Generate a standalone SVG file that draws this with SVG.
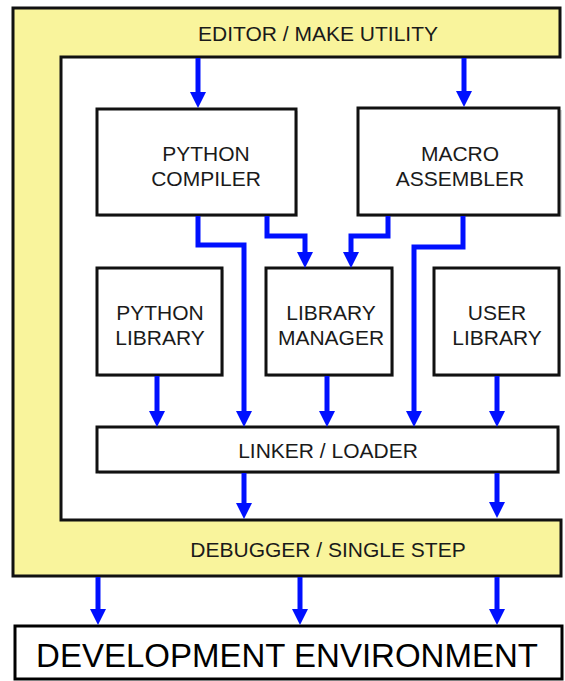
<svg xmlns="http://www.w3.org/2000/svg" width="565" height="681" viewBox="0 0 565 681">
<style>
.box{fill:#fff;stroke:#111;stroke-width:3}
.shadow{fill:#d8d8d8}
.frame{fill:#f9f49c;stroke:#111;stroke-width:3;stroke-linejoin:miter}
.t{font-family:"Liberation Sans",Arial,sans-serif;font-size:21px;fill:#1a1a1a;text-anchor:middle}
.big{font-size:33px;fill:#000}
.c{fill:none;stroke:#0010ff;stroke-width:5;stroke-linejoin:miter;marker-end:url(#ah)}
</style>
<defs>
<marker id="ah" markerUnits="userSpaceOnUse" markerWidth="16" markerHeight="16" refX="1" refY="8" orient="auto" viewBox="0 0 16 16">
<path d="M0,0 L16,8 L0,16 z" fill="#0010ff"/>
</marker>
</defs>
<rect width="565" height="681" fill="#fff"/>
<g id="frame">
<polygon class="frame" points="13,8 560,8 560,57 61,57 61,520 561,520 561,576 13,576"/>
<text class="t" x="318" y="41">EDITOR / MAKE UTILITY</text>
<text class="t" x="328" y="557">DEBUGGER / SINGLE STEP</text>
</g>
<g id="python-compiler">
<rect class="shadow" x="99" y="111" width="199" height="106"/>
<rect class="box" x="97" y="109" width="199" height="106"/>
<text class="t" x="206" y="161">PYTHON</text>
<text class="t" x="206" y="186">COMPILER</text>
</g>
<g id="macro-assembler">
<rect class="shadow" x="360" y="110" width="202" height="107"/>
<rect class="box" x="358" y="108" width="201" height="107"/>
<text class="t" x="460" y="161">MACRO</text>
<text class="t" x="460" y="186">ASSEMBLER</text>
</g>
<g id="python-library">
<rect class="shadow" x="99" y="270" width="125" height="107"/>
<rect class="box" x="97" y="268" width="125" height="107"/>
<text class="t" x="160" y="320">PYTHON</text>
<text class="t" x="160" y="345">LIBRARY</text>
</g>
<g id="library-manager">
<rect class="shadow" x="268" y="270" width="126" height="107"/>
<rect class="box" x="266" y="268" width="126" height="107"/>
<text class="t" x="331" y="320">LIBRARY</text>
<text class="t" x="331" y="345">MANAGER</text>
</g>
<g id="user-library">
<rect class="shadow" x="436" y="270" width="125" height="107"/>
<rect class="box" x="434" y="268" width="125" height="107"/>
<text class="t" x="497" y="320">USER</text>
<text class="t" x="497" y="345">LIBRARY</text>
</g>
<g id="linker-loader">
<rect class="shadow" x="99" y="429" width="461" height="45"/>
<rect class="box" x="97" y="427" width="461" height="45"/>
<text class="t" x="328" y="458">LINKER / LOADER</text>
</g>
<g id="development-environment">
<rect x="15" y="626" width="547" height="53" fill="#fff" stroke="#000" stroke-width="3"/>
<text class="t big" x="287" y="667">DEVELOPMENT ENVIRONMENT</text>
</g>
<g id="connectors">
<path class="c" d="M198,58 V93"/>
<path class="c" d="M464,58 V92"/>
<path class="c" d="M198,216 V245 H244 V412"/>
<path class="c" d="M267,216 V236 H305 V253"/>
<path class="c" d="M388,216 V236 H351 V253"/>
<path class="c" d="M463,216 V247 H414 V412"/>
<path class="c" d="M157,376 V412"/>
<path class="c" d="M327,376 V412"/>
<path class="c" d="M497,376 V412"/>
<path class="c" d="M244,473 V504"/>
<path class="c" d="M497,473 V503"/>
<path class="c" d="M98,577 V610"/>
<path class="c" d="M300,577 V610"/>
<path class="c" d="M497,577 V610"/>
</g>
</svg>
